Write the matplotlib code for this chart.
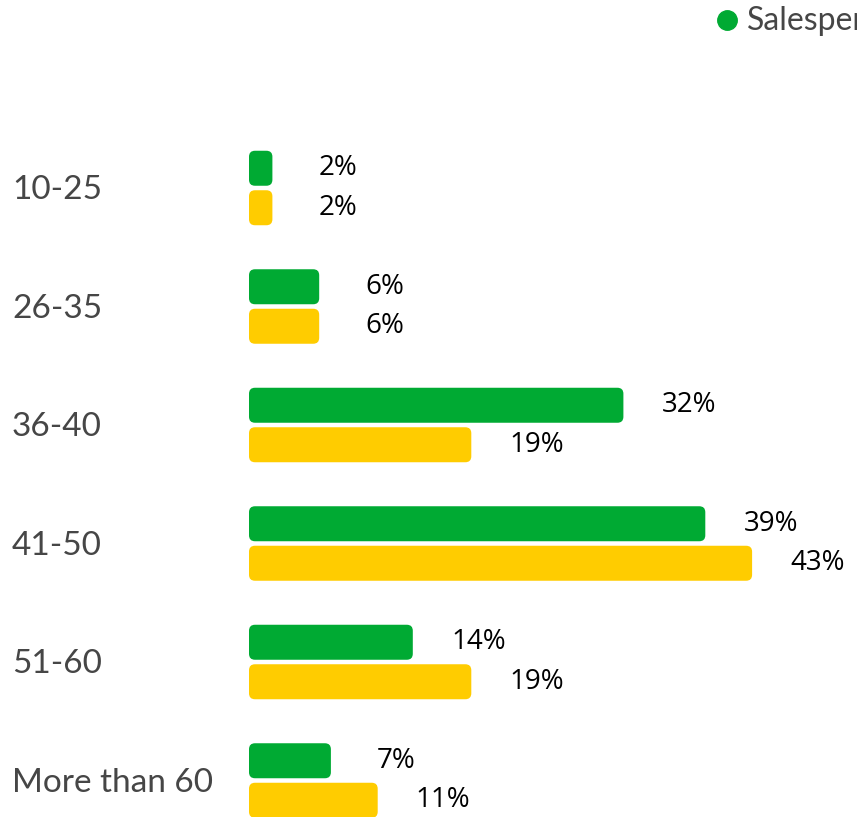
import matplotlib
matplotlib.use('Agg')
import matplotlib.pyplot as plt
import matplotlib.transforms as mtransforms
from matplotlib.patches import FancyBboxPatch
from matplotlib.lines import Line2D

# data
categories = ['10-25', '26-35', '36-40', '41-50', '51-60', 'More than 60']
green_vals = [2, 6, 32, 39, 14, 7]
yellow_vals = [2, 6, 19, 43, 19, 11]
legend_label = 'Salesperson'

green = '#00aa33'
yellow = '#ffcc00'
gray = '#464646'

W, H = 857, 817
fig = plt.figure(figsize=(W / 100, H / 100), dpi=100)
ax = fig.add_axes([0, 0, 1, 1])
ax.set_axis_off()

# pixel layout: zero at x=249, 11.7 px per percent; groups 118.5 px apart
px_per_pct = 11.7
px_per_grp = 118.5
ax.set_xlim(-249 / px_per_pct, (W - 249) / px_per_pct)
ax.set_ylim((H - 188) / px_per_grp, -188 / px_per_grp)

bar_h = 35 / px_per_grp
off = 19.75 / px_per_grp
aspect = px_per_pct / px_per_grp
rnd = 6 / px_per_pct

lbl_font = 'Lato'
val_font = 'Open Sans'
for i, (g, y) in enumerate(zip(green_vals, yellow_vals)):
    for v, dy, c in [(g, -off, green), (y, off, yellow)]:
        p = FancyBboxPatch((0, i + dy - bar_h / 2), v, bar_h,
                           boxstyle='round,pad=0,rounding_size=%f' % rnd,
                           mutation_aspect=aspect, fc=c, ec='none')
        ax.add_patch(p)
        ax.text(v + 5.6, i + dy, '%d%%' % v, ha='center', va='center',
                fontsize=20, color='black', family=val_font)

trans = mtransforms.blended_transform_factory(fig.transFigure, ax.transData)
for i, cat in enumerate(categories):
    ax.text(12 / W, i + 0.02, cat, transform=trans, ha='left', va='center',
            fontsize=24, color=gray, family=lbl_font)

# legend (cut off at the right edge, as in the source)
fig.add_artist(Line2D([727 / W], [1 - 20 / H], marker='o', markersize=14,
                      color=green, linestyle='none', transform=fig.transFigure))
fig.text(747 / W, 1 - 21 / H, legend_label, ha='left', va='center',
         fontsize=23, color=gray, family=lbl_font)

fig.savefig('out.png', dpi=100)
